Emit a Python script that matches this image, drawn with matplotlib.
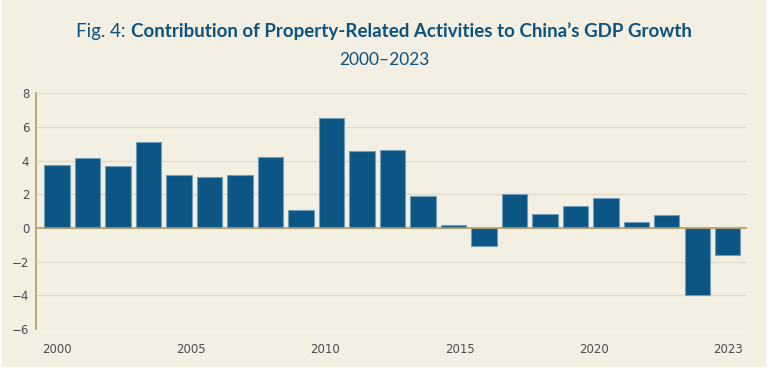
import numpy as np
import matplotlib
matplotlib.use("Agg")
import matplotlib.pyplot as plt
from matplotlib.patches import Rectangle

# contribution to GDP growth (percentage points), one bar per year
values = [3.74, 4.14, 3.66, 5.09, 3.15, 3.01, 3.15, 4.22, 1.09, 6.55, 4.57, 4.65,
          1.88, 0.18, -1.05, 2.0, 0.85, 1.29, 1.76, 0.34, 0.75, -4.0, -1.62]
tick_labels = ['2000', '2005', '2010', '2015', '2020', '2023']
y_ticks = [-6, -4, -2, 0, 2, 4, 6, 8]

bg = '#f3f0e3'
bar_color = '#0c5685'
gold = '#b49b5e'
title_color = '#0e527f'

fig = plt.figure(figsize=(7.71, 3.73), dpi=100)
fig.patch.set_facecolor('white')
fig.patches.append(Rectangle((0.003, 0.016), 0.99, 0.984, transform=fig.transFigure,
                             facecolor=bg, edgecolor='none', zorder=-10))

ax = fig.add_axes([0.0471, 0.118, 0.9214, 0.632])
ax.set_facecolor(bg)

x = np.arange(len(values))
ax.bar(x, values, width=0.83, color=bar_color, edgecolor='#6f9dba', linewidth=0.8, zorder=3)

ax.set_xlim(-0.68, 22.62)
ax.set_ylim(-6, 8)
ax.set_yticks(y_ticks)
ax.set_yticklabels([str(v).replace('-', '\u2212') for v in y_ticks])
ax.set_xticks(np.linspace(0, len(values) - 1, len(tick_labels)))
ax.set_xticklabels(tick_labels)
ax.tick_params(axis='both', length=0, labelsize=8.5, labelcolor='#4d4d4d')
ax.tick_params(axis='x', pad=10)
ax.tick_params(axis='y', pad=5)

for v in y_ticks:
    if v != 0:
        ax.axhline(v, color='#e2dccb', linewidth=1.0, zorder=1)
ax.axhline(0, color=gold, linewidth=1.2, zorder=4)

for s in ['top', 'right', 'bottom']:
    ax.spines[s].set_visible(False)
ax.spines['left'].set_color(gold)
ax.spines['left'].set_linewidth(1.2)

# title in two parts: regular prefix + bold body, centered together
renderer = fig.canvas.get_renderer()
t1 = fig.text(0, 0.902, 'Fig. 4: ', fontsize=13.5, family='Lato', color=title_color)
t2 = fig.text(0, 0.902, 'Contribution of Property-Related Activities to China\u2019s GDP Growth',
              fontsize=13.5, family='Lato', fontweight='bold', color=title_color)
w1 = t1.get_window_extent(renderer).width
w2 = t2.get_window_extent(renderer).width
start = 384 - (w1 + w2) / 2
t1.set_x(start / 771)
t2.set_x((start + w1) / 771)

fig.text(384 / 771, 0.826, '2000\u20132023', fontsize=12.5, family='Lato',
         color=title_color, ha='center')

fig.savefig('out.png', dpi=100, facecolor=fig.get_facecolor())
